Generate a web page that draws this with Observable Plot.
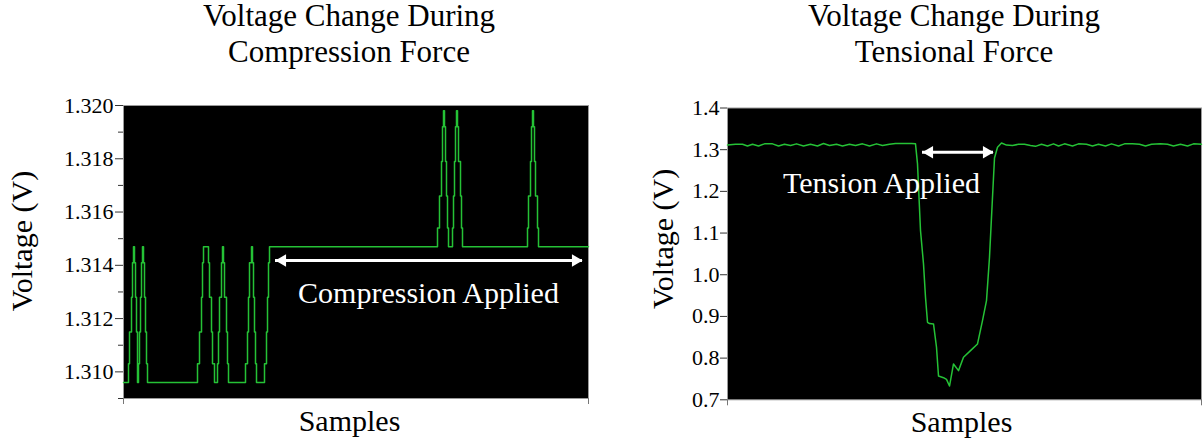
<!DOCTYPE html>
<html>
<head>
<meta charset="utf-8">
<script src="https://cdn.jsdelivr.net/npm/d3@7"></script>
<script src="https://cdn.jsdelivr.net/npm/@observablehq/plot@0.6"></script>
<style>
  html, body { margin: 0; padding: 0; background: #fff; overflow: hidden; }
  #page { position: relative; width: 1203px; height: 442px; }
  .title {
    position: absolute; text-align: center; white-space: nowrap;
    font-family: "Liberation Serif", "Times New Roman", serif;
    font-size: 31px; line-height: 29px; color: #000;
  }
  .chart { position: absolute; top: 75px; }
</style>
</head>
<body>
<div id="page">
  <div class="title" style="left:49px;width:600px;top:1px;">Voltage Change During</div>
  <div class="title" style="left:49px;width:600px;top:37px;">Compression Force</div>
  <div class="title" style="left:754px;width:400px;top:1px;">Voltage Change During</div>
  <div class="title" style="left:754px;width:400px;top:37px;">Tensional Force</div>
  <div class="chart" id="left" style="left:0px;"></div>
  <div class="chart" id="right" style="left:600px;"></div>
</div>
<script>
// Compression trace: sample index where the quantised reading changes, and the new reading (V)
const compressionSample = [
  0,
  5, 6, 8, 9, 10, 11, 12, 13, 14,
  15, 16, 17, 18, 19, 20, 21, 22, 23, 24,
  74, 76, 78, 79, 80, 85, 86, 88, 89, 91,
  94, 95, 96, 98, 99, 100, 101, 103, 104, 105,
  122, 124, 125, 126, 128, 129, 130, 131, 132, 133,
  141, 143, 144, 145, 146,
  314, 316, 318, 319, 320, 321, 322, 323, 324, 325,
  329, 330, 331, 332, 333, 334, 335, 337, 338, 339,
  404, 405, 407, 408, 409, 410, 411, 412, 414, 415,
  465
];
const compressionVolts = [
  1.3096,
  1.3103, 1.3115, 1.3128, 1.3141, 1.3147, 1.3141, 1.3128, 1.3115, 1.3096,
  1.3103, 1.3115, 1.3128, 1.3141, 1.3147, 1.3141, 1.3128, 1.3115, 1.3103, 1.3096,
  1.3103, 1.3115, 1.3128, 1.3141, 1.3147, 1.3141, 1.3128, 1.3115, 1.3103, 1.3096,
  1.3103, 1.3115, 1.3128, 1.3141, 1.3147, 1.3141, 1.3128, 1.3115, 1.3103, 1.3096,
  1.3103, 1.3115, 1.3128, 1.3141, 1.3147, 1.3141, 1.3128, 1.3115, 1.3103, 1.3096,
  1.3103, 1.3115, 1.3128, 1.3141, 1.3147,
  1.3154, 1.3166, 1.3179, 1.3192, 1.3198, 1.3192, 1.3179, 1.3166, 1.3154, 1.3147,
  1.3154, 1.3166, 1.3179, 1.3192, 1.3198, 1.3192, 1.3179, 1.3166, 1.3154, 1.3147,
  1.3154, 1.3166, 1.3179, 1.3192, 1.3198, 1.3192, 1.3179, 1.3166, 1.3154, 1.3147,
  1.3147
];
const compressionTicks = [1.310, 1.312, 1.314, 1.316, 1.318, 1.320];
const compressionMinorTicks = [1.309, 1.311, 1.313, 1.315, 1.317, 1.319];

// Tension trace: sample index and reading (V)
const tensionSample = [
  0, 8, 15, 20, 25, 31, 37, 45, 51, 57, 63, 69, 76, 83, 90, 96, 102, 109, 115, 122,
  128, 135, 142, 149, 155, 162, 168, 176, 184, 188,
  190, 193, 196, 198, 200, 202, 206, 209, 211, 216, 219, 222, 226, 231, 236, 243,
  250, 255, 259, 262, 265, 267, 270, 274,
  279, 285, 291, 297, 303, 308, 314, 320, 326, 331, 337, 345, 351, 359, 365, 371,
  378, 384, 391, 397, 405, 412, 418, 424, 433, 440, 446, 453, 460, 466, 474
];
const tensionVolts = [
  1.311, 1.313, 1.313, 1.309, 1.313, 1.309, 1.314, 1.314, 1.309, 1.313, 1.310, 1.314, 1.309, 1.313, 1.309, 1.315, 1.310, 1.313, 1.309, 1.313,
  1.310, 1.314, 1.309, 1.314, 1.310, 1.313, 1.315, 1.315, 1.315, 1.314,
  1.266, 1.106, 1.026, 0.946, 0.886, 0.883, 0.882, 0.826, 0.757, 0.753, 0.749, 0.733, 0.786, 0.770, 0.802, 0.818,
  0.834, 0.890, 0.938, 1.042, 1.186, 1.280, 1.306, 1.316,
  1.311, 1.310, 1.313, 1.313, 1.310, 1.308, 1.313, 1.309, 1.314, 1.309, 1.314, 1.309, 1.314, 1.313, 1.309, 1.313,
  1.309, 1.314, 1.309, 1.314, 1.314, 1.313, 1.309, 1.313, 1.314, 1.313, 1.309, 1.313, 1.309, 1.314, 1.313
];
const tensionTicks = [0.7, 0.8, 0.9, 1.0, 1.1, 1.2, 1.3, 1.4];

// Annotation spans (sample range and level of the double arrow)
const compressionSpan = [152, 459];
const compressionSpanLevel = 1.31418;
const tensionSpan = [195, 266];
const tensionSpanLevel = 1.294;

const serif = "Liberation Serif, Times New Roman, serif";
const green = "#25c236";

function spanArrow(span, level) {
  return [
    Plot.ruleY([level], {x1: span[0], x2: span[1], stroke: "white", strokeWidth: 3}),
    Plot.dot([span[0]], {x: d => d, y: () => level, symbol: "triangle", rotate: -90, r: 4.6, fill: "white", stroke: "none", dx: 7}),
    Plot.dot([span[1]], {x: d => d, y: () => level, symbol: "triangle", rotate: 90, r: 4.6, fill: "white", stroke: "none", dx: -7})
  ];
}

const left = Plot.plot({
  width: 600, height: 367,
  marginLeft: 123, marginRight: 12, marginTop: 30, marginBottom: 44,
  style: {fontFamily: serif, fontSize: "22px", background: "transparent", overflow: "visible"},
  x: {domain: [0, 465]},
  y: {domain: [1.309, 1.320]},
  marks: [
    Plot.frame({fill: "black", stroke: "#9a9a9a"}),
    Plot.axisY(compressionTicks, {tickFormat: d3.format(".3f"), tickSize: 8, tickPadding: 2, label: null, stroke: "#333"}),
    Plot.axisY(compressionMinorTicks, {tickFormat: () => "", tickSize: 5, label: null, stroke: "#333"}),
    Plot.axisX([0, 465], {tickFormat: () => "", tickSize: 6, label: null, stroke: "#777"}),
    Plot.line(compressionSample, {x: compressionSample, y: compressionVolts, curve: "step-after", stroke: green, strokeWidth: 1.5}),
    ...spanArrow(compressionSpan, compressionSpanLevel),
    Plot.text(["Compression Applied"], {x: 305, y: 1.31296, fill: "white", fontSize: 30, fontFamily: serif, lineAnchor: "middle"}),
    Plot.text(["Voltage (V)"], {frameAnchor: "left", textAnchor: "middle", dx: -101.5, dy: -11, rotate: -90, fontSize: 30, fontFamily: serif, lineAnchor: "middle", fill: "black"}),
    Plot.text(["Samples"], {frameAnchor: "bottom", dx: -6.5, dy: 22.5, fontSize: 30, fontFamily: serif, lineAnchor: "middle", fill: "black"})
  ]
});
document.getElementById("left").appendChild(left);

const right = Plot.plot({
  width: 603, height: 367,
  marginLeft: 127, marginRight: 2, marginTop: 32.5, marginBottom: 42.7,
  style: {fontFamily: serif, fontSize: "22px", background: "transparent", overflow: "visible"},
  x: {domain: [0, 474]},
  y: {domain: [0.7, 1.4]},
  marks: [
    Plot.frame({fill: "black", stroke: "#9a9a9a"}),
    Plot.axisY(tensionTicks, {tickFormat: d3.format(".1f"), tickSize: 7, tickPadding: 1, label: null, stroke: "#333"}),
    Plot.axisX([0, 474], {tickFormat: () => "", tickSize: 6, label: null, stroke: "#777"}),
    Plot.line(tensionSample, {x: tensionSample, y: tensionVolts, stroke: green, strokeWidth: 1.5}),
    ...spanArrow(tensionSpan, tensionSpanLevel),
    Plot.text(["Tension Applied"], {x: 154, y: 1.2187, fill: "white", fontSize: 30, fontFamily: serif, lineAnchor: "middle"}),
    Plot.text(["Voltage (V)"], {frameAnchor: "left", textAnchor: "middle", dx: -64, dy: -15, rotate: -90, fontSize: 30, fontFamily: serif, lineAnchor: "middle", fill: "black"}),
    Plot.text(["Samples"], {frameAnchor: "bottom", dx: -3, dy: 22.5, fontSize: 30, fontFamily: serif, lineAnchor: "middle", fill: "black"})
  ]
});
document.getElementById("right").appendChild(right);
</script>
</body>
</html>
